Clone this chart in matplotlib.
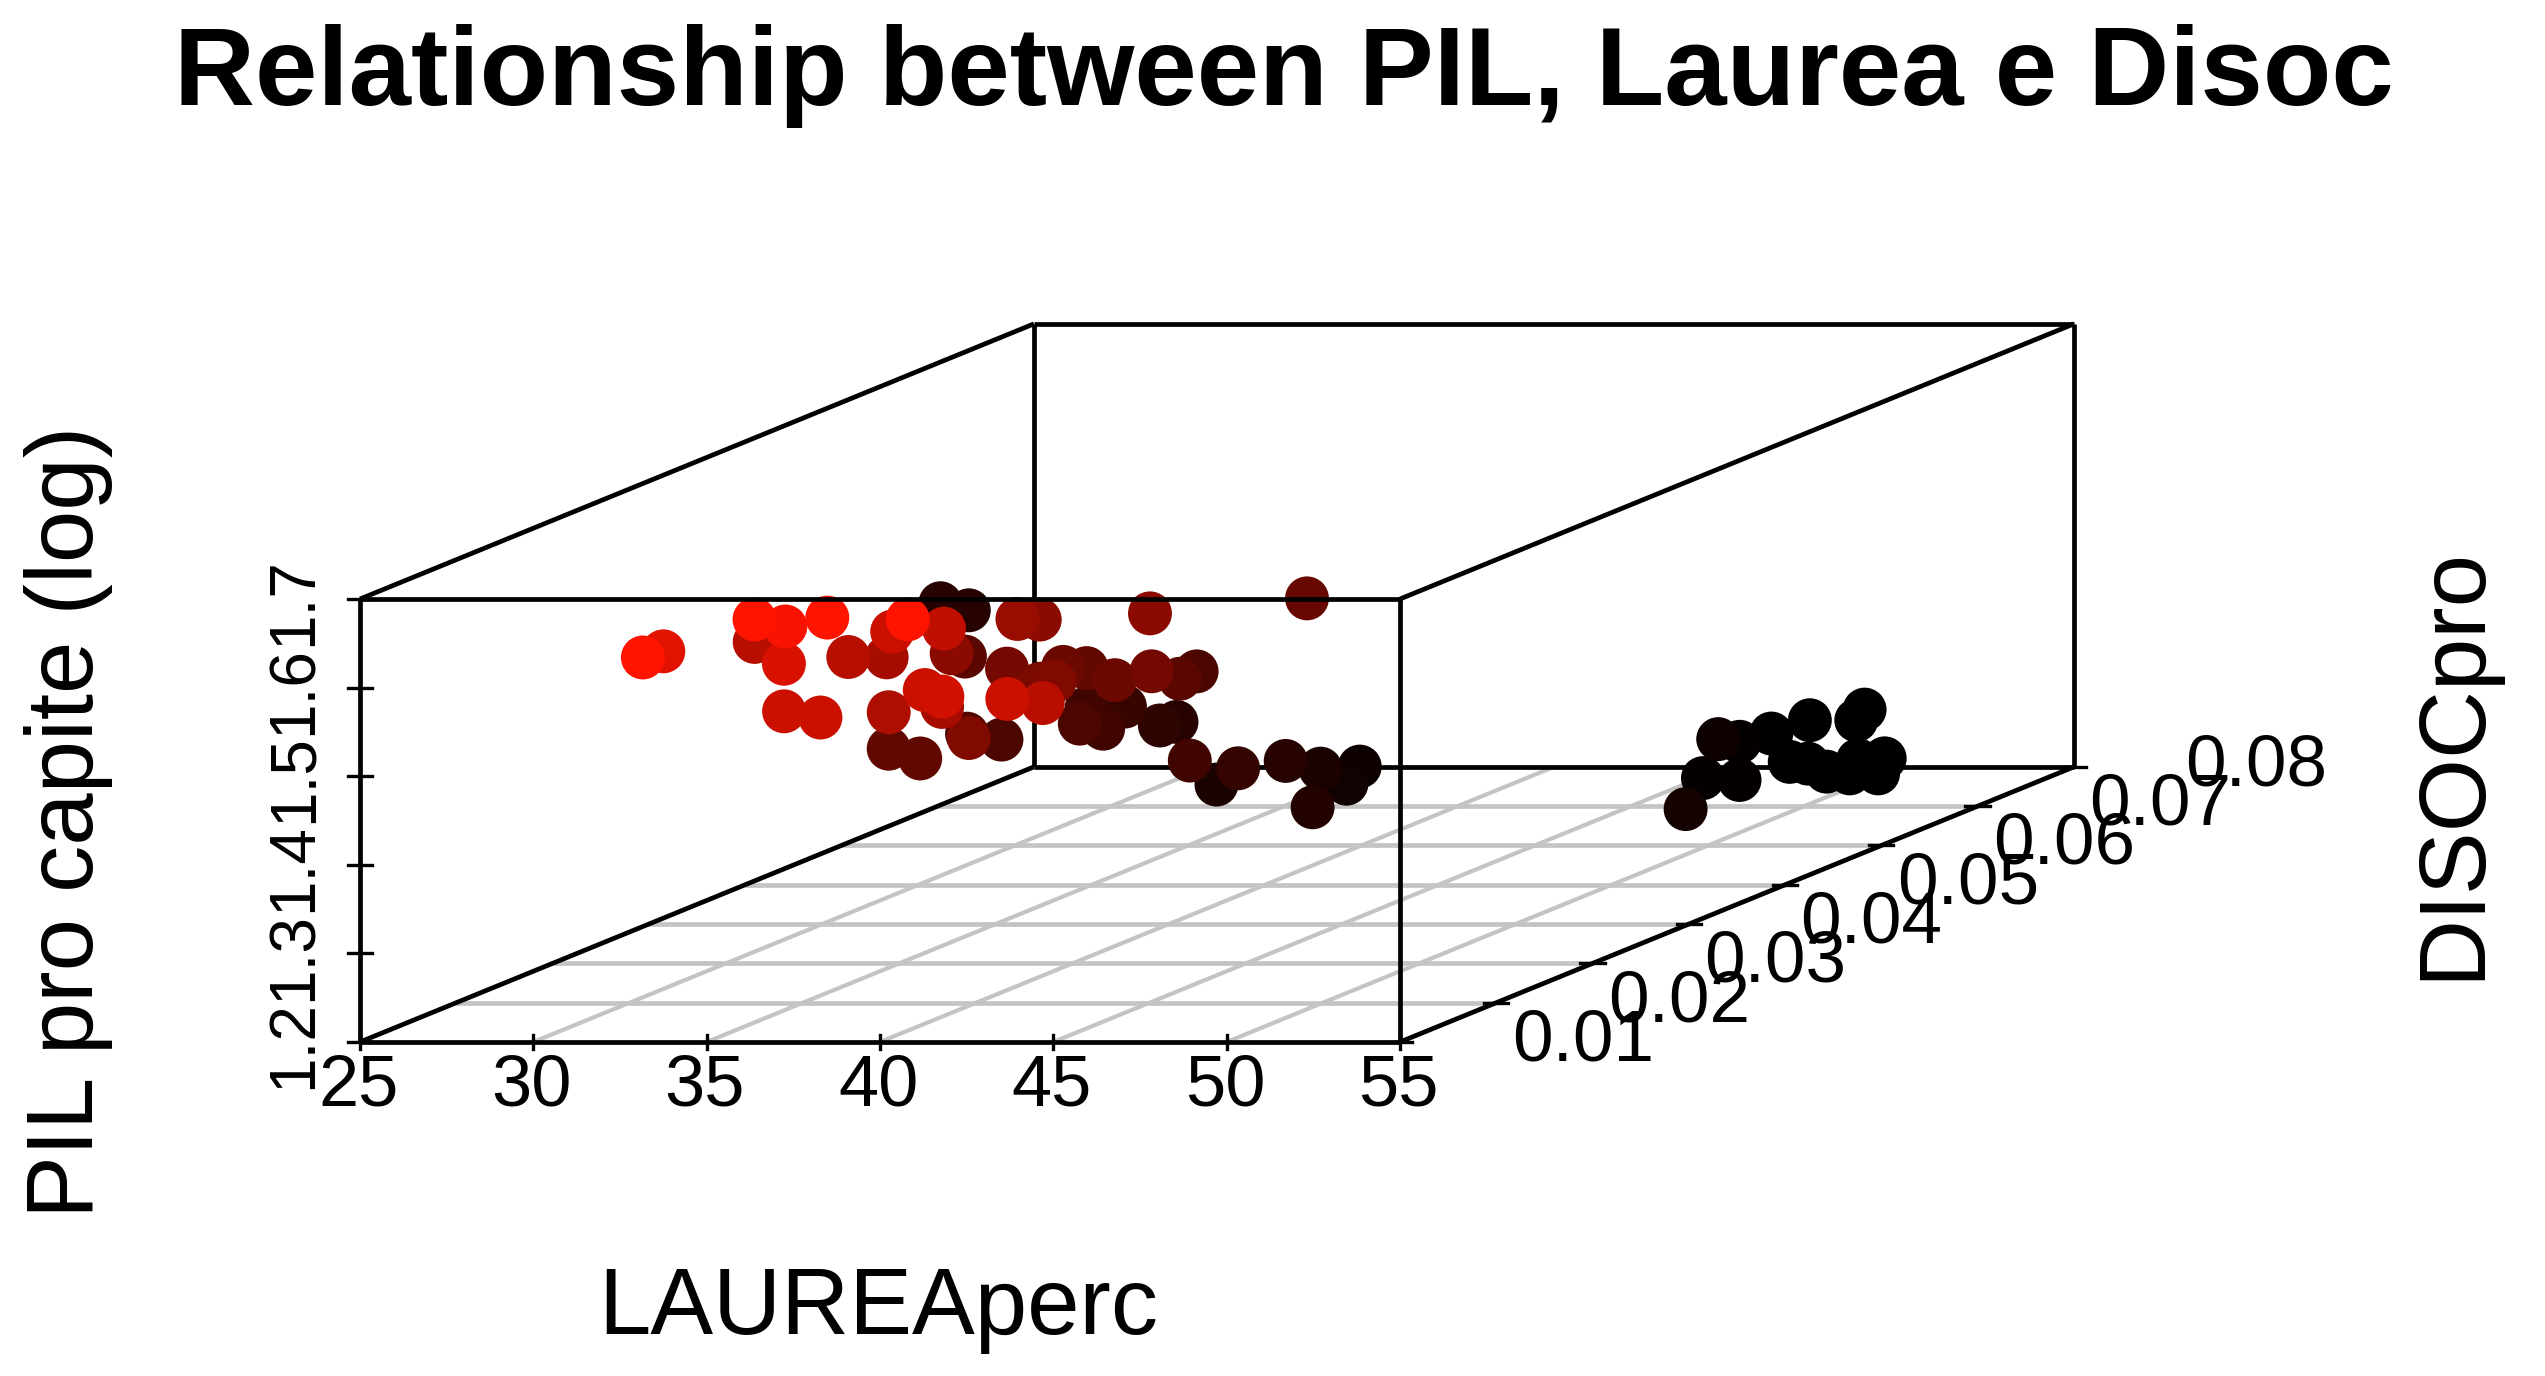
import numpy as np
import matplotlib
matplotlib.use("Agg")
import matplotlib.pyplot as plt
from matplotlib.colors import LinearSegmentedColormap

plt.rcParams['font.family'] = ['Liberation Sans', 'DejaVu Sans']

laurea = [33.16, 31.75, 36.38, 31.72, 36.77, 34.73, 38.48, 34.42, 34.36, 37.02,
          40.80, 37.68, 27.58, 28.40, 34.57, 31.62, 37.30, 37.11, 34.50, 33.90,
          34.95, 34.92, 37.96, 38.80, 35.96, 29.92, 30.83, 31.18, 34.23, 31.84,
          40.34, 40.03, 40.29, 42.32, 35.62, 36.71, 35.95, 35.63, 37.11, 38.67,
          37.82, 37.47, 34.07, 33.46, 34.10, 33.94, 34.41, 34.39, 36.44, 37.00,
          34.71, 37.54, 37.71, 38.01, 37.96, 38.15, 47.91, 47.41, 48.35, 48.47,
          48.41, 49.05, 49.58, 50.16, 50.11, 50.64, 51.31, 51.50, 51.74, 51.55,
          52.13, 52.32]
disoc = [.0100, .0172, .0100, .0268, .0118, .0190, .0100, .0268, .0310, .0220,
         .0100, .0250, .0610, .0610, .0370, .0490, .0340, .0370, .0430, .0220,
         .0220, .0292, .0220, .0208, .0310, .0472, .0472, .0508, .0400, .0520,
         .0220, .0268, .0370, .0460, .0448, .0400, .0412, .0472, .0448, .0430,
         .0490, .0520, .0568, .0550, .0520, .0550, .0592, .0610, .0550, .0580,
         .0640, .0610, .0640, .0670, .0658, .0616, .0652, .0688, .0670, .0688,
         .0690, .0700, .0700, .0700, .0700, .0700, .0700, .0700, .0700, .0700,
         .0700, .0700]
pil = [1.634, 1.609, 1.677, 1.577, 1.661, 1.587, 1.679, 1.560, 1.541, 1.610,
       1.677, 1.600, 1.469, 1.461, 1.519, 1.462, 1.571, 1.557, 1.475, 1.520,
       1.513, 1.487, 1.544, 1.542, 1.485, 1.366, 1.355, 1.367, 1.410, 1.355,
       1.534, 1.508, 1.564, 1.541, 1.469, 1.474, 1.466, 1.457, 1.454, 1.472,
       1.437, 1.432, 1.371, 1.377, 1.373, 1.354, 1.339, 1.335, 1.318, 1.296,
       1.251, 1.291, 1.269, 1.258, 1.244, 1.236, 1.218, 1.237, 1.289, 1.278,
       1.234, 1.282, 1.250, 1.297, 1.248, 1.239, 1.237, 1.297, 1.309, 1.252,
       1.237, 1.254]

x_ticks = [25, 30, 35, 40, 45, 50, 55]
y_ticks = [0.01, 0.02, 0.03, 0.04, 0.05, 0.06, 0.07, 0.08]
z_ticks = [1.2, 1.3, 1.4, 1.5, 1.6, 1.7]

W, H = 2545, 1376
X_SHIFT = 277.7   # oblique projection: laurea units per unit of disoc
Z_SHIFT = 4.436   # pil units per unit of disoc


def proj(x, y, z):
    d = np.asarray(y, dtype=float) - y_ticks[0]
    return np.asarray(x, dtype=float) + d * X_SHIFT, np.asarray(z, dtype=float) + d * Z_SHIFT


fig = plt.figure(figsize=(W / 100, H / 100), dpi=100)
ax = fig.add_axes([360 / W, (H - 1042) / H, 1040 / W, 443 / H])
ax.set_xlim(x_ticks[0], x_ticks[-1])
ax.set_ylim(z_ticks[0], z_ticks[-1])
ax.axis('off')


def line3d(p, q, color='black', lw=3.4, zorder=2):
    a = proj(*p)
    b = proj(*q)
    ax.plot([a[0], b[0]], [a[1], b[1]], color=color, lw=lw, zorder=zorder,
            clip_on=False, solid_capstyle='butt')


x0, x1 = x_ticks[0], x_ticks[-1]
y0, y1 = y_ticks[0], y_ticks[-1]
z0, z1 = z_ticks[0], z_ticks[-1]

# grid on the floor
for v in y_ticks[1:-1]:
    line3d((x0, v, z0), (x1, v, z0), color='#c4c4c4', lw=3.4, zorder=1)
for v in x_ticks[1:-1]:
    line3d((v, y0, z0), (v, y1, z0), color='#c4c4c4', lw=3.0, zorder=1)

# back of the box, under the points
line3d((x0, y1, z0), (x1, y1, z0))
line3d((x0, y1, z0), (x0, y1, z1))
line3d((x1, y1, z0), (x1, y1, z1))
line3d((x0, y1, z1), (x1, y1, z1))
line3d((x0, y0, z1), (x0, y1, z1))
line3d((x1, y0, z1), (x1, y1, z1))
line3d((x0, y0, z0), (x0, y1, z0))
line3d((x1, y0, z0), (x1, y1, z0))

# points from back to front, red to black along disoc
cmap = LinearSegmentedColormap.from_list('depth', ['#000000', '#ff1400'])
order = np.argsort(disoc)[::-1]
lau = np.array(laurea)[order]
dis = np.array(disoc)[order]
pl = np.array(pil)[order]
sx, sy = proj(lau, dis, pl)
ax.scatter(sx, sy, c=0.07 - dis, cmap=cmap, vmin=0, vmax=0.06, s=1000, linewidths=0,
           zorder=3, clip_on=False)

# front of the box
line3d((x0, y0, z0), (x1, y0, z0), zorder=4)
line3d((x0, y0, z1), (x1, y0, z1), zorder=4)
line3d((x0, y0, z0), (x0, y0, z1), zorder=4)
line3d((x1, y0, z0), (x1, y0, z1), zorder=4)

# ticks and tick labels
fs = 52
for v in x_ticks:
    ax.plot([v, v], [z0 - 0.008, z0 + 0.008], color='black', lw=2.4, zorder=4, clip_on=False)
    ax.text(v - 0.05, z0 - 0.0715, str(v), ha='center', va='baseline', fontsize=fs)
for v in z_ticks:
    ax.plot([x0 - 0.35, x0 + 0.35], [v, v], color='black', lw=2.4, zorder=4, clip_on=False)
    ax.text(x0 - 1.9, v - 0.003, '%.1f' % v, rotation=90, ha='center', va='center', fontsize=46)
for v in y_ticks:
    tx, tz = proj(x1, v, z0)
    ax.plot([tx - 0.35, tx + 0.35], [tz, tz], color='black', lw=2.4, zorder=4, clip_on=False)
    ax.text(tx + 3.22, tz, '%.2f' % v, ha='left', va='center', fontsize=52.6)

# titles
fig.text(1284 / W, 1 - 105 / H, 'Relationship between PIL, Laurea e Disoc',
         ha='center', va='baseline', fontsize=80.7, fontweight='bold')
fig.text(878 / W, 1 - 1334 / H, 'LAUREAperc', ha='center', va='baseline', fontsize=67.8)
fig.text(69 / W, 1 - 822 / H, 'PIL pro capite (log)', rotation=90,
         ha='center', va='center', fontsize=67.8)
fig.text(2454 / W, 1 - 763 / H, 'DISOCpro', rotation=90,
         ha='center', va='center', fontsize=67.8)

fig.savefig('out.png', dpi=100)
